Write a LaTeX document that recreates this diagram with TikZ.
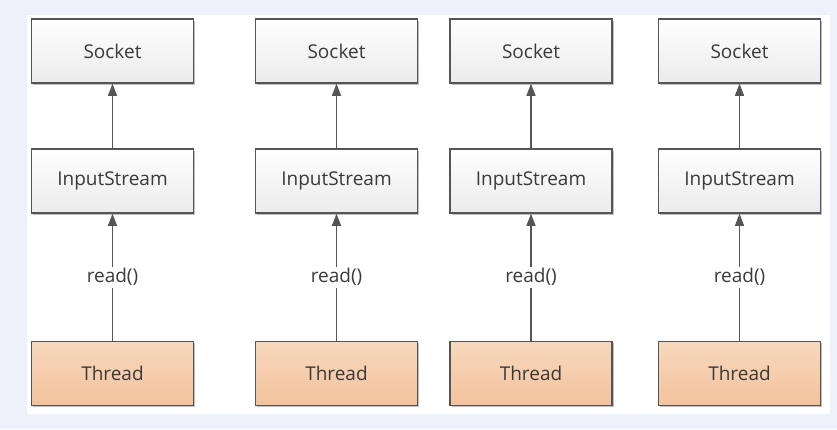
\documentclass[tikz,border=0pt]{standalone}
\usepackage{xcolor}
\usepackage{fontspec}
\usepackage{tikz}
\usetikzlibrary{arrows.meta,shadows}
\setmainfont{Open Sans}
\definecolor{PageBlue}{HTML}{EDF2FA}
\definecolor{BoxLine}{HTML}{555555}
\definecolor{BoxTop}{HTML}{FFFFFF}
\definecolor{BoxBottom}{HTML}{EBEBEB}
\definecolor{ThreadTop}{HTML}{F8D8BD}
\definecolor{ThreadBottom}{HTML}{F2C39D}
\definecolor{TextGray}{HTML}{3A3A3A}

\begin{document}
\begin{tikzpicture}[x=1pt, y=-1pt,
  box/.style={draw=BoxLine, line width=1.5pt, top color=BoxTop, bottom color=BoxBottom,
              minimum width=162pt, minimum height=64pt, inner sep=0pt,
              font=\fontsize{19}{22}\selectfont, text=TextGray,
              drop shadow={shadow xshift=1.5pt, shadow yshift=-1.5pt, fill=black, opacity=0.25}},
  thread/.style={box, top color=ThreadTop, bottom color=ThreadBottom},
  arrow/.style={-{Triangle[width=9pt,length=12pt]}, line width=1.1pt, color=BoxLine},
  label/.style={fill=white, inner sep=2pt, font=\fontsize{19}{22}\selectfont, text=TextGray}
]
  % page and panel
  \fill[PageBlue] (0,0) rectangle (837,429);
  \fill[white] (27,15) rectangle (830,414);

  \node[box] (sock1) at (112.5,51) {Socket};
  \node[box] (sock2) at (336.5,51) {Socket};
  \node[box] (sock3) at (531,51)   {Socket};
  \node[box] (sock4) at (739.5,51) {Socket};

  \node[box] (in1) at (112.5,181) {InputStream};
  \node[box] (in2) at (336.5,181) {InputStream};
  \node[box] (in3) at (531,181)   {InputStream};
  \node[box] (in4) at (739.5,181) {InputStream};

  \node[thread] (thr1) at (112.5,373.5) {Thread};
  \node[thread] (thr2) at (336.5,373.5) {Thread};
  \node[thread] (thr3) at (531,373.5)   {Thread};
  \node[thread] (thr4) at (739.5,373.5) {Thread};

  \draw[arrow] (in1) -- (sock1);
  \draw[arrow] (in2) -- (sock2);
  \draw[arrow] (in3) -- (sock3);
  \draw[arrow] (in4) -- (sock4);

  \draw[arrow] (thr1) -- node[label]{read()} (in1);
  \draw[arrow] (thr2) -- node[label]{read()} (in2);
  \draw[arrow] (thr3) -- node[label]{read()} (in3);
  \draw[arrow] (thr4) -- node[label]{read()} (in4);
\end{tikzpicture}
\end{document}
